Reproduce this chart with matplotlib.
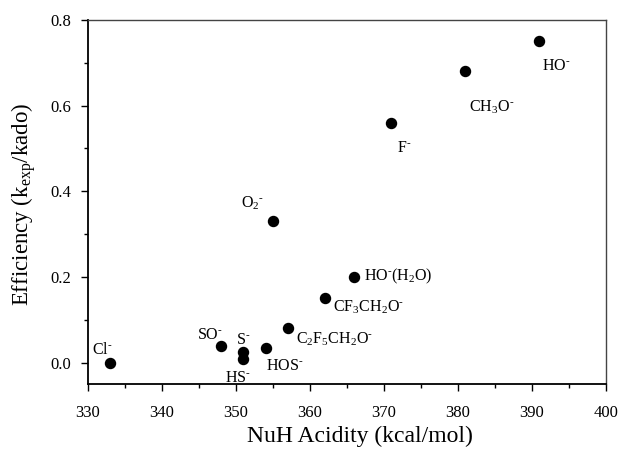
import matplotlib
matplotlib.use('Agg')
import matplotlib.pyplot as plt
from matplotlib.ticker import MultipleLocator

plt.rcParams['font.family'] = ['Liberation Serif', 'DejaVu Serif']
plt.rcParams['mathtext.fontset'] = 'custom'
plt.rcParams['mathtext.rm'] = 'Liberation Serif'
plt.rcParams['mathtext.it'] = 'Liberation Serif:italic'

# NuH acidity (kcal/mol) and efficiency
acidity = [333, 348, 351, 351, 354, 357, 362, 366, 355, 371, 381, 391]
efficiency = [0.0, 0.04, 0.025, 0.008, 0.035, 0.08, 0.15, 0.20, 0.33, 0.56, 0.68, 0.75]

# label text and where it sits (left edge, baseline) in data units
labels = [r'Cl$^{\text{-}}$', r'SO$^{\text{-}}$', r'S$^{\text{-}}$', r'HS$^{\text{-}}$',
          r'HOS$^{\text{-}}$', r'C$_2$F$_5$CH$_2$O$^{\text{-}}$',
          r'CF$_3$CH$_2$O$^{\text{-}}$', r'HO$^{\text{-}}$(H$_2$O)',
          r'O$_2$$^{\text{-}}$', r'F$^{\text{-}}$', r'CH$_3$O$^{\text{-}}$', r'HO$^{\text{-}}$']
label_x = [330.5, 344.7, 350.0, 348.5, 354.1, 358.1, 363.1, 367.3, 350.7, 371.8, 381.5, 391.4]
label_y = [0.020, 0.055, 0.044, -0.045, -0.017, 0.044, 0.119, 0.192, 0.361, 0.492, 0.586, 0.684]

fig = plt.figure(figsize=(6.2, 4.54), dpi=100)
ax = fig.add_axes([0.142, 0.154, 0.835, 0.802])

ax.scatter(acidity, efficiency, s=52, color='black', zorder=3)

for t, x, y in zip(labels, label_x, label_y):
    ax.text(x, y, t, fontsize=11.5, ha='left', va='baseline')

ax.set_xlim(330, 400)
ax.set_ylim(-0.05, 0.8)
ax.xaxis.set_major_locator(MultipleLocator(10))
ax.xaxis.set_minor_locator(MultipleLocator(5))
ax.yaxis.set_minor_locator(MultipleLocator(0.1))
ax.set_yticks([0.0, 0.2, 0.4, 0.6, 0.8])
ax.set_yticklabels(['0.0', '0.2', '0.4', '0.6', '0.8'])
ax.tick_params(which='both', direction='out', top=False, right=False, labelsize=12)
ax.tick_params(which='major', length=5, width=1)
ax.tick_params(which='minor', length=3, width=1)
ax.tick_params(axis='x', which='major', pad=10)
ax.tick_params(axis='y', which='major', pad=7)

for side in ['left', 'bottom']:
    ax.spines[side].set_linewidth(1.3)
for side in ['top', 'right']:
    ax.spines[side].set_linewidth(1.0)
    ax.spines[side].set_color('#444444')

ax.set_xlabel('NuH Acidity (kcal/mol)', fontsize=17, va='center')
ax.xaxis.set_label_coords(0.525, -0.143)
ax.set_ylabel(r'Efficiency (k$_{\mathrm{exp}}$/kado)', fontsize=16.5, va='center')
ax.yaxis.set_label_coords(-0.124, 0.495)

plt.savefig('out.png', dpi=100)
